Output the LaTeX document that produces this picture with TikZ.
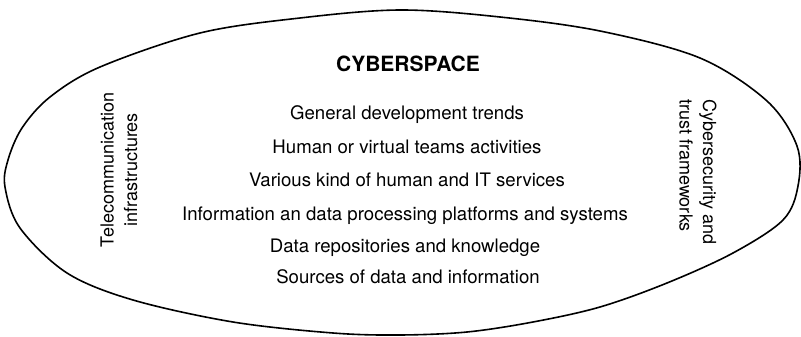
\documentclass[tikz,border=0pt]{standalone}
\usepackage{fontspec}
\setmainfont{TeX Gyre Heros}

\begin{document}
\begin{tikzpicture}[x=1pt,y=-1pt]
  \tikzset{
    item/.style={anchor=base, inner sep=0pt, font=\fontsize{18.6}{22}\selectfont},
    title/.style={item, font=\fontsize{21}{25}\selectfont\bfseries},
    side/.style={inner sep=0pt, font=\fontsize{18}{23.5}\selectfont}
  }
  \useasboundingbox (0,0) rectangle (801,337);

  % the outline of cyberspace
  \draw [line width=1.6pt, line join=round]
    plot [smooth cycle, tension=0.55] coordinates {
      (400,10) (500,17) (600,31) (700,58) (767,101) (797,146)
      (798,186) (783,220) (733,253) (667,283) (600,307) (533,322)
      (467,332) (400,335) (333,333) (233,322) (133,300) (67,273)
      (20,228) (5,187) (8,160) (22,128) (50,97) (100,67) (200,33) (300,18)};

  \node [title] (cyber) at (408,72) {CYBERSPACE};

  \node [item] (trends)    at (407,120) {General development trends};
  \node [item] (teams)     at (407,153) {Human or virtual teams activities};
  \node [item] (services)  at (407,186) {Various kind of human and IT services};
  \node [item] (platforms) at (405,220) {Information an data processing platforms and systems};
  \node [item] (repos)     at (405,252) {Data repositories and knowledge};
  \node [item] (sources)   at (408,283) {Sources of data and information};

  \node [side, rotate=90, align=center] (telecom) at (119,170)
    {Telecommunication\\infrastructures};
  \node [side, rotate=-90, align=left] (security) at (698,172)
    {Cybersecurity and\\trust frameworks};
\end{tikzpicture}
\end{document}
